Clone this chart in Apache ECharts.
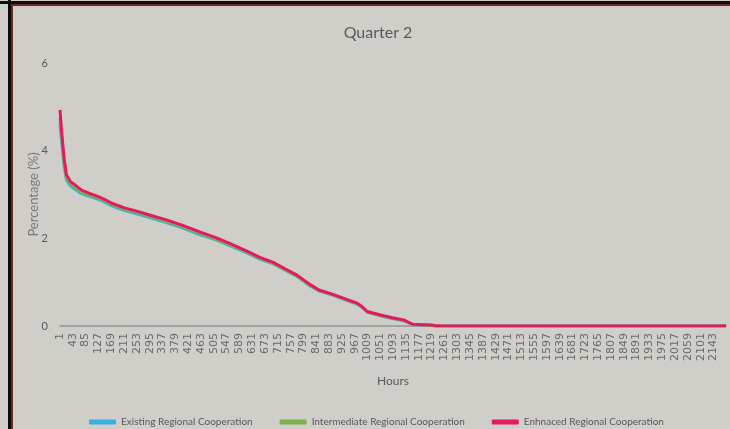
<!DOCTYPE html>
<html>
<head>
<meta charset="utf-8">
<script src="https://cdn.jsdelivr.net/npm/echarts@6/dist/echarts.min.js"></script>
<style>
  html, body { margin: 0; padding: 0; background: #d0cec9; }
  #chart { width: 730px; height: 429px; }
</style>
</head>
<body>
<div id="chart"></div>
<script>
// hours of the quarter (category axis)
const hours = []
for (let h = 1; h <= 2184; h++) hours.push(String(h))

// points
const sampleHours = [1, 5, 10, 15, 22, 35, 50, 72, 100, 127, 150, 171, 210, 258, 300, 350, 401, 461, 510, 559, 610, 658, 700, 740, 778, 820, 850, 888, 943, 975, 990, 1008, 1052, 1090, 1127, 1157, 1190, 1222, 1235, 2184]
const existing = [4.60, 4.30, 3.95, 3.62, 3.33, 3.20, 3.12, 3.02, 2.95, 2.89, 2.82, 2.74, 2.64, 2.55, 2.46, 2.36, 2.24, 2.08, 1.97, 1.83, 1.68, 1.52, 1.42, 1.27, 1.13, 0.92, 0.80, 0.72, 0.58, 0.50, 0.43, 0.32, 0.23, 0.17, 0.12, 0.03, 0.02, 0.01, 0, 0]
const intermediate = [4.75, 4.42, 4.05, 3.70, 3.38, 3.24, 3.16, 3.05, 2.98, 2.92, 2.85, 2.77, 2.67, 2.58, 2.49, 2.39, 2.27, 2.11, 1.99, 1.85, 1.70, 1.54, 1.43, 1.28, 1.14, 0.93, 0.81, 0.73, 0.59, 0.51, 0.44, 0.32, 0.24, 0.18, 0.13, 0.04, 0.02, 0.01, 0, 0]
const enhanced = [4.93, 4.55, 4.15, 3.80, 3.45, 3.30, 3.22, 3.10, 3.02, 2.95, 2.88, 2.80, 2.70, 2.61, 2.52, 2.42, 2.30, 2.14, 2.02, 1.88, 1.72, 1.56, 1.45, 1.30, 1.16, 0.95, 0.82, 0.74, 0.60, 0.52, 0.45, 0.33, 0.25, 0.19, 0.14, 0.04, 0.03, 0.02, 0, 0]

const names = ['Existing Regional Cooperation', 'Intermediate Regional Cooperation', 'Enhnaced Regional Cooperation']
const colors = ['#35b0e0', '#7cb04a', '#e5195f']

function pairs(values) {
  return sampleHours.map((h, i) => [String(h), values[i]])
}

function makeSeries(name, color, values) {
  return {
    name: name,
    type: 'line',
    showSymbol: false,
    symbol: 'none',
    data: pairs(values),
    lineStyle: { color: color, width: 3 },
    itemStyle: { color: color },
    animation: false
  }
}

const chart = echarts.init(document.getElementById('chart'))
chart.setOption({
  backgroundColor: '#d0cec9',
  textStyle: { fontFamily: 'Lato, sans-serif' },
  title: {
    text: 'Quarter 2',
    left: 373,
    top: 20,
    textAlign: 'center',
    textStyle: { fontSize: 16, fontWeight: 'normal', color: '#595959', fontFamily: 'Lato, sans-serif' }
  },
  grid: { left: 60, right: 4, top: 63, bottom: 103, containLabel: false },
  legend: {
    data: names,
    left: 84,
    top: 412,
    itemWidth: 27,
    itemHeight: 5,
    itemGap: 27,
    icon: 'roundRect',
    textStyle: { fontSize: 10, color: '#595959', fontFamily: 'Lato, sans-serif' }
  },
  xAxis: {
    type: 'category',
    data: hours,
    boundaryGap: false,
    offset: 1,
    name: 'Hours',
    nameLocation: 'middle',
    nameGap: 48,
    nameTextStyle: { fontSize: 12, color: '#595959' },
    axisLine: { lineStyle: { color: '#a3a3a0', width: 2 } },
    axisTick: { show: false },
    axisLabel: {
      interval: 41,
      rotate: 90,
      margin: 6,
      fontSize: 11,
      fontFamily: 'DejaVu Sans',
      color: '#6a6a6a'
    },
    splitLine: { show: false }
  },
  yAxis: {
    type: 'value',
    min: 0,
    max: 6,
    interval: 2,
    name: 'Percentage (%)',
    nameLocation: 'middle',
    nameGap: 20,
    nameMoveOverlap: false,
    nameTextStyle: { fontSize: 13, color: '#7a7a7a' },
    axisLine: { show: false },
    axisTick: { show: false },
    axisLabel: { margin: 12, fontSize: 11, color: '#595959' },
    splitLine: { show: false }
  },
  series: [
    makeSeries(names[0], colors[0], existing),
    makeSeries(names[1], colors[1], intermediate),
    makeSeries(names[2], colors[2], enhanced)
  ],
  graphic: [
    { type: 'rect', shape: { x: 0, y: 1, width: 730, height: 3 }, style: { fill: '#0c0c0c' }, silent: true },
    { type: 'rect', shape: { x: 11, y: 4, width: 719, height: 2 }, style: { fill: '#6b2b22' }, silent: true },
    { type: 'rect', shape: { x: 8, y: 0, width: 3, height: 429 }, style: { fill: '#0c0c0c' }, silent: true },
    { type: 'rect', shape: { x: 11, y: 4, width: 2, height: 425 }, style: { fill: '#6b2b22' }, silent: true }
  ]
})
</script>
</body>
</html>
